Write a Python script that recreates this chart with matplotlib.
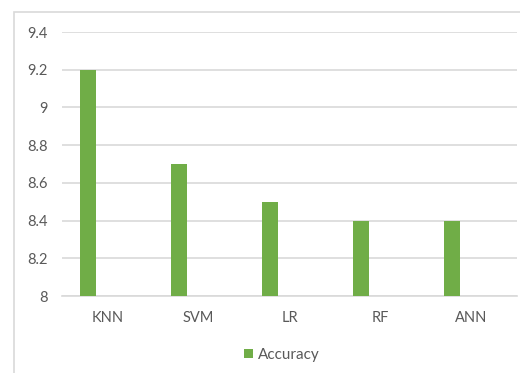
import matplotlib
matplotlib.use("Agg")
import matplotlib.pyplot as plt
from matplotlib.patches import Rectangle
import numpy as np

models = ["KNN", "SVM", "LR", "RF", "ANN"]
accuracy = [9.2, 8.7, 8.5, 8.4, 8.4]
y_ticks = [8, 8.2, 8.4, 8.6, 8.8, 9, 9.2, 9.4]
y_tick_labels = ["8", "8.2", "8.4", "8.6", "8.8", "9", "9.2", "9.4"]

GREEN = "#70AD47"
GRID = "#D9D9D9"
TEXT = "#595959"

plt.rcParams["font.family"] = ["Lato", "DejaVu Sans"]

W, H = 520, 373
fig = plt.figure(figsize=(W / 100, H / 100), dpi=100)
fig.patch.set_facecolor("white")

# chart border, runs off the right and bottom edges
fig.add_artist(Rectangle((14 / W, -0.05), 1.2, 1 - 12 / H + 0.05,
                         transform=fig.transFigure, fill=False,
                         edgecolor=GRID, linewidth=1.2))

# plot area in pixels: x 62..517, y 32..296
ax = fig.add_axes([62 / W, 1 - 296 / H, (517 - 62) / W, (296 - 32) / H])
x = np.arange(len(models))
ax.bar(x - 0.215, [a - 8 for a in accuracy], bottom=8, width=0.176,
       color=GREEN, label="Accuracy", zorder=3)

ax.set_xlim(-0.5, len(models) - 0.5)
ax.set_ylim(8, 9.4)
ax.set_yticks(y_ticks)
ax.set_yticklabels(y_tick_labels)
ax.set_xticks(x)
ax.set_xticklabels(models)
ax.tick_params(axis="both", length=0, labelsize=10.5, colors=TEXT)
ax.tick_params(axis="y", pad=10)
ax.tick_params(axis="x", pad=11)

ax.grid(axis="y", color=GRID, linewidth=1.2, zorder=0)
for side in ["top", "right", "left"]:
    ax.spines[side].set_visible(False)
ax.spines["bottom"].set_color(GRID)
ax.spines["bottom"].set_linewidth(1.2)

fig.legend(loc="center", bbox_to_anchor=(282 / W, 1 - 355 / H),
           frameon=False, fontsize=11, labelcolor=TEXT,
           handlelength=0.6, handleheight=0.6, handletextpad=0.3)

fig.savefig("out.png", dpi=100)
